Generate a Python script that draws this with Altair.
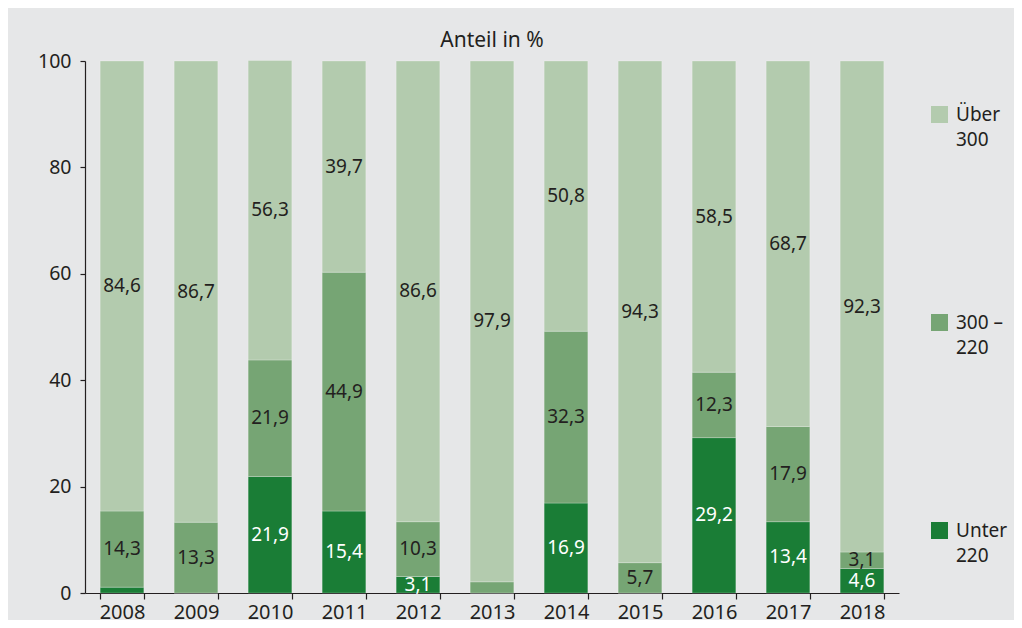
import altair as alt
import pandas as pd

years = ["2008", "2009", "2010", "2011", "2012", "2013", "2014", "2015", "2016", "2017", "2018"]
unter_220 = [1.1, 0.0, 21.9, 15.4, 3.1, 0.0, 16.9, 0.0, 29.2, 13.4, 4.6]
mitte_300_220 = [14.3, 13.3, 21.9, 44.9, 10.3, 2.1, 32.3, 5.7, 12.3, 17.9, 3.1]
ueber_300 = [84.6, 86.7, 56.3, 39.7, 86.6, 97.9, 50.8, 94.3, 58.5, 68.7, 92.3]

categories = ["Über 300", "300 – 220", "Unter 220"]
colors = ["#b3cbae", "#76a574", "#1a7d36"]
label_colors = ["#231f20", "#231f20", "#ffffff"]

rows = []
for i, y in enumerate(years):
    rows.append({"year": y, "cat": "Unter 220", "ord": 0, "value": unter_220[i]})
    rows.append({"year": y, "cat": "300 – 220", "ord": 1, "value": mitte_300_220[i]})
    rows.append({"year": y, "cat": "Über 300", "ord": 2, "value": ueber_300[i]})
df = pd.DataFrame(rows)

FONT = "Noto Sans"
INK = "#231f20"

xscale = alt.Scale(paddingInner=0.41, paddingOuter=0.205)
yscale = alt.Scale(domain=[0, 100], nice=False)

base = alt.Chart(df)

bars = base.mark_bar(stroke="#ffffff", strokeOpacity=0.3, strokeWidth=0.8).encode(
    x=alt.X("year:N", scale=xscale, sort=years,
            axis=alt.Axis(title=None, labelAngle=0, tickBand="extent", tickSize=6,
                          labelPadding=3, labelFontSize=20)),
    y=alt.Y("value:Q", stack="zero", scale=yscale,
            axis=alt.Axis(title=None, values=[0, 20, 40, 60, 80, 100], grid=False,
                          tickSize=5, labelPadding=9, labelFontSize=19.5)),
    color=alt.Color("cat:N", scale=alt.Scale(domain=categories, range=colors),
                    legend=alt.Legend(
                        title=None, orient="none", legendX=845, legendY=44,
                        symbolType="square", symbolSize=289, symbolStrokeWidth=0,
                        labelFontSize=19, labelFont=FONT, labelColor=INK,
                        labelOffset=7, labelBaseline="middle", rowPadding=163,
                        padding=0,
                        labelExpr="[slice(datum.label, 0, lastindexof(datum.label, ' ')), slice(datum.label, lastindexof(datum.label, ' ') + 1)]",
                    )),
    order=alt.Order("ord:Q"),
)

labels = base.transform_stack(
    stack="value", groupby=["year"], sort=[alt.SortField("ord", order="ascending")],
    as_=["y0", "y1"]
).transform_calculate(
    mid="(datum.y0 + datum.y1) / 2",
    txt="replace(format(datum.value, '.1f'), '.', ',')"
).transform_filter(
    "datum.value >= 3"
).mark_text(font=FONT, fontSize=19, baseline="middle").encode(
    x=alt.X("year:N", scale=xscale, sort=years),
    y=alt.Y("mid:Q", scale=yscale),
    text="txt:N",
    color=alt.Color("cat:N", scale=alt.Scale(domain=categories, range=label_colors), legend=None),
)

chart = alt.layer(bars, labels).resolve_scale(color="independent").properties(
    width=814, height=532,
    autosize=alt.AutoSizeParams(type="none"),
    padding={"left": 77, "top": 53, "right": 115, "bottom": 27},
    background="#e6e7e8",
    title=alt.TitleParams("Anteil in %", font=FONT, fontSize=21, fontWeight="normal",
                          color=INK, anchor="middle", offset=0),
).configure(
    style={"guide-label": {"lineHeight": 25}}
).configure_view(stroke=None).configure_axis(
    domainColor=INK, tickColor=INK, labelColor=INK, labelFont=FONT, domainWidth=1.2, tickWidth=1.2
)

chart.save("out.html", embed_options={"renderer": "svg", "actions": False})
